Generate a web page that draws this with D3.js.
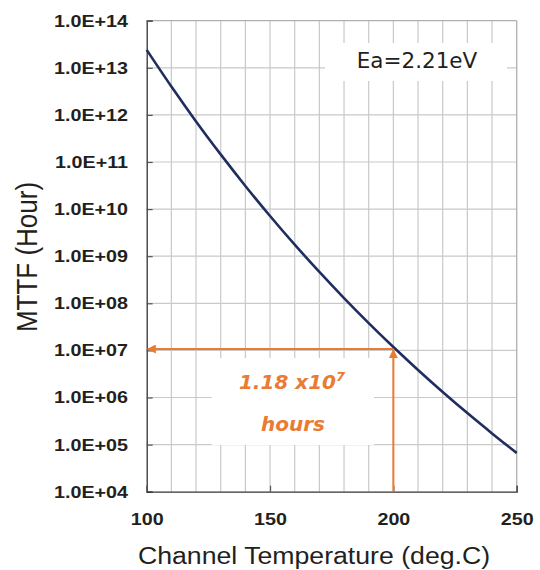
<!DOCTYPE html>
<html><head><meta charset="utf-8">
<script src="https://cdn.jsdelivr.net/npm/d3@7"></script>
<style>
html,body{margin:0;padding:0;background:#fff;}
svg{display:block;}
</style></head>
<body>
<svg id="chart" width="540" height="570"></svg>
<script>
// ---- data ----
const temps = [100,110,120,130,140,150,160,170,180,190,200,210,220,230,240,250];
const mttf  = [2.40e13,4.00e12,7.28e11,1.45e11,3.10e10,7.14e9,1.76e9,4.63e8,1.29e8,3.80e7,1.18e7,3.85e6,1.31e6,4.66e5,1.73e5,6.64e4];
const xTicks = [100,150,200,250];
const xGrid = [110,120,130,140,150,160,170,180,190,200,210,220,230,240];
const yTicks = [1e4,1e5,1e6,1e7,1e8,1e9,1e10,1e11,1e12,1e13,1e14];
const yTickLabels = ["1.0E+04","1.0E+05","1.0E+06","1.0E+07","1.0E+08","1.0E+09","1.0E+10","1.0E+11","1.0E+12","1.0E+13","1.0E+14"];
const annoTemp = 200;
const annoValue = 1.18e7;
const annoText1 = "1.18 x10";
const annoSup = "7";
const annoText2 = "hours";
const eaText = "Ea=2.21eV";
const xTitle = "Channel Temperature (deg.C)";
const yTitle = "MTTF (Hour)";

// ---- layout ----
const L = 146.7, R = 516.7, T = 20.7, B = 491.7;
const SX = 1.16; // horizontal stretch of the original lettering
const svg = d3.select("#chart");
const x = d3.scaleLinear().domain([100,250]).range([L,R]);
const y = d3.scaleLog().domain([1e4,1e14]).range([B,T]);

const orange = "#E97B33";
const navy = "#1F2E5E";
const gridCol = "#c9c9c9";
const sans = "'Liberation Sans',Arial,sans-serif";

// grid
svg.append("g").selectAll("line").data(xGrid).join("line")
  .attr("x1",d=>x(d)).attr("x2",d=>x(d)).attr("y1",T).attr("y2",B)
  .attr("stroke",gridCol).attr("stroke-width",1.2);
svg.append("g").selectAll("line").data(yTicks.slice(1,-1)).join("line")
  .attr("x1",L).attr("x2",R).attr("y1",d=>y(d)).attr("y2",d=>y(d))
  .attr("stroke",gridCol).attr("stroke-width",1.2);

// frame top/right
svg.append("line").attr("x1",L).attr("x2",R).attr("y1",T).attr("y2",T).attr("stroke","#b0b0b0").attr("stroke-width",1.3);
svg.append("line").attr("x1",R).attr("x2",R).attr("y1",T).attr("y2",B).attr("stroke","#b0b0b0").attr("stroke-width",1.3);

// white label boxes (cover grid)
svg.append("rect").attr("x",325).attr("y",43).attr("width",182).attr("height",38).attr("fill","#fff");
svg.append("rect").attr("x",211.7).attr("y",358).attr("width",162.3).attr("height",87).attr("fill","#fff");

// axes
const yAxis = d3.axisLeft(y).tickValues(yTicks).tickSize(-6)
  .tickFormat((d,i)=>yTickLabels[i]);
const gy = svg.append("g").attr("transform",`translate(${L},0)`).call(yAxis);
gy.select(".domain").attr("stroke","#333").attr("stroke-width",1.3);
gy.selectAll(".tick line").attr("stroke","#555").attr("stroke-width",1.2);
gy.selectAll(".tick text").attr("font-family",sans)
  .attr("font-weight","bold").attr("font-size",17).attr("fill","#231f20")
  .attr("x",0).attr("transform",`translate(-18.7,0) scale(${SX},1)`);

const xAxis = d3.axisBottom(x).tickValues(xTicks).tickSize(-6).tickPadding(21).tickFormat(d3.format("d"));
const gx = svg.append("g").attr("transform",`translate(0,${B})`).call(xAxis);
gx.select(".domain").attr("stroke","#333").attr("stroke-width",1.3);
gx.selectAll(".tick line").attr("stroke","#555").attr("stroke-width",1.2);
gx.selectAll(".tick text").attr("font-family",sans)
  .attr("font-weight","bold").attr("font-size",17).attr("fill","#231f20")
  .attr("transform",`scale(${SX},1)`);

// curve
const line = d3.line().x((d,i)=>x(temps[i])).y(d=>y(d)).curve(d3.curveMonotoneX);
svg.append("path").datum(mttf).attr("d",line).attr("fill","none")
  .attr("stroke",navy).attr("stroke-width",2.6);

// orange arrows
const defs = svg.append("defs");
defs.append("marker").attr("id","arr").attr("viewBox","0 0 10 10").attr("refX",9).attr("refY",5)
  .attr("markerWidth",4.5).attr("markerHeight",4.5).attr("orient","auto")
  .append("path").attr("d","M0,0 L10,5 L0,10 Z").attr("fill",orange);
const ax = x(annoTemp), ay = y(annoValue) + 2;
svg.append("line").attr("x1",ax).attr("x2",ax).attr("y1",B).attr("y2",ay+1)
  .attr("stroke",orange).attr("stroke-width",2).attr("marker-end","url(#arr)");
svg.append("line").attr("x1",ax).attr("x2",L+1).attr("y1",ay).attr("y2",ay)
  .attr("stroke",orange).attr("stroke-width",2).attr("marker-end","url(#arr)");

// annotation texts
const t1 = svg.append("text").attr("x",292).attr("y",388.5).attr("text-anchor","middle")
  .attr("font-family","'DejaVu Sans',Verdana,sans-serif").attr("font-weight","bold")
  .attr("font-style","italic").attr("font-size",20).attr("fill",orange);
t1.append("tspan").text(annoText1);
t1.append("tspan").attr("font-size",13).attr("dy",-8).text(annoSup);
svg.append("text").attr("x",293).attr("y",431).attr("text-anchor","middle")
  .attr("font-family","'DejaVu Sans',Verdana,sans-serif").attr("font-weight","bold")
  .attr("font-style","italic").attr("font-size",20).attr("fill",orange).text(annoText2);

svg.append("text").attr("x",417).attr("y",68.3).attr("text-anchor","middle")
  .attr("font-family","'DejaVu Sans',Verdana,sans-serif").attr("font-size",21.5)
  .attr("fill","#231f20").text(eaText);

// axis titles
svg.append("text").attr("transform",`translate(314,563.5) scale(${SX},1)`).attr("text-anchor","middle")
  .attr("font-family",sans).attr("font-size",23).attr("fill","#231f20").text(xTitle);
svg.append("text").attr("transform",`translate(37,257) scale(${SX},1) rotate(-90)`).attr("text-anchor","middle")
  .attr("font-family",sans).attr("font-size",26).attr("fill","#231f20").text(yTitle);
</script>
</body></html>
